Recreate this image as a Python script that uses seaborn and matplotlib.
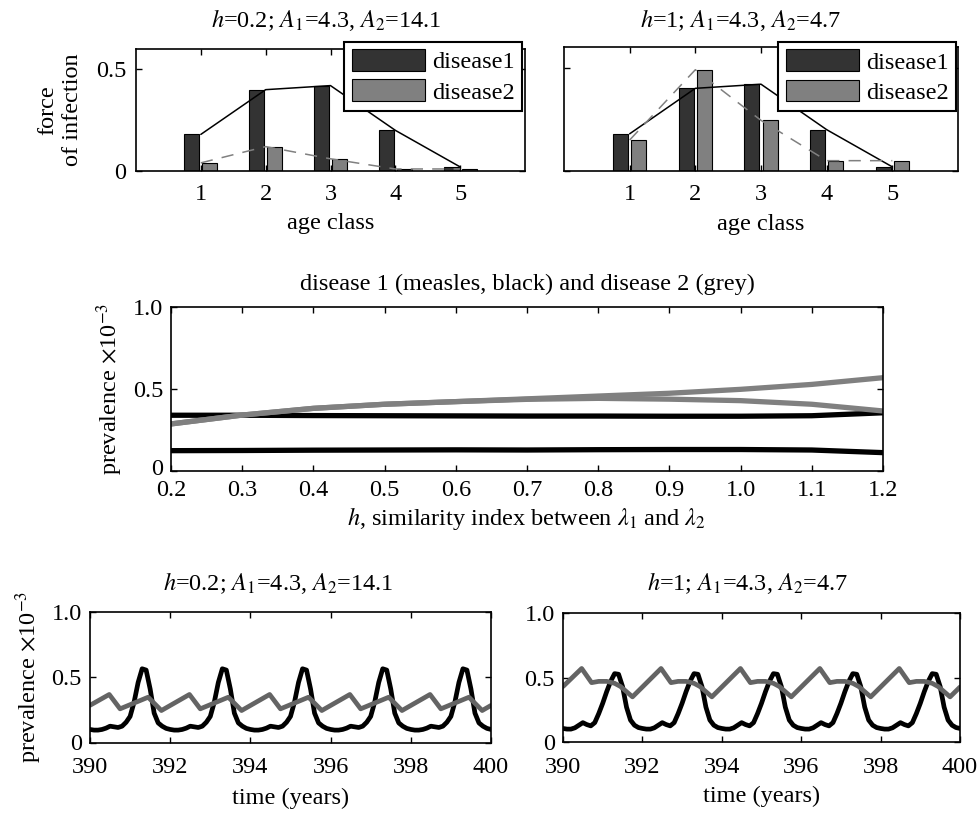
import numpy as np
import pandas as pd
import matplotlib
matplotlib.use("Agg")
import matplotlib.pyplot as plt
import matplotlib.transforms as mtransforms
import seaborn as sns
from matplotlib.patches import Patch

# ---------------- data ----------------
age_classes = [1, 2, 3, 4, 5]
foi_disease1 = [0.18, 0.40, 0.42, 0.20, 0.02]
foi_disease2_h02 = [0.04, 0.12, 0.06, 0.01, 0.01]
foi_disease2_h1 = [0.15, 0.49, 0.245, 0.05, 0.05]

h_values = [0.2, 0.3, 0.4, 0.5, 0.6, 0.7, 0.8, 0.9, 1.0, 1.1, 1.2]
measles_upper = [0.340, 0.340, 0.338, 0.337, 0.336, 0.335, 0.335, 0.334, 0.334, 0.337, 0.355]
measles_lower = [0.124, 0.125, 0.127, 0.128, 0.129, 0.128, 0.130, 0.131, 0.131, 0.128, 0.112]
disease2_upper = [0.287, 0.341, 0.382, 0.407, 0.423, 0.440, 0.457, 0.474, 0.498, 0.528, 0.569]
disease2_lower = [0.287, 0.341, 0.382, 0.407, 0.423, 0.437, 0.443, 0.438, 0.429, 0.407, 0.366]

# time grid for the measles series (every 0.1 year)
years = np.round(np.arange(390.0, 400.05, 0.1), 1)

measles_h02 = [
    0.100, 0.095, 0.095, 0.100, 0.110, 0.125, 0.120, 0.115, 0.125, 0.155,
    0.200, 0.310, 0.460, 0.565, 0.555, 0.410, 0.225, 0.150, 0.125, 0.108,
    0.100, 0.095, 0.095, 0.100, 0.110, 0.125, 0.120, 0.115, 0.125, 0.155,
    0.200, 0.310, 0.460, 0.565, 0.555, 0.410, 0.225, 0.150, 0.125, 0.108,
    0.100, 0.095, 0.095, 0.100, 0.110, 0.125, 0.120, 0.115, 0.125, 0.155,
    0.200, 0.310, 0.460, 0.565, 0.555, 0.410, 0.225, 0.150, 0.125, 0.108,
    0.100, 0.095, 0.095, 0.100, 0.110, 0.125, 0.120, 0.115, 0.125, 0.155,
    0.200, 0.310, 0.460, 0.565, 0.555, 0.410, 0.225, 0.150, 0.125, 0.108,
    0.100, 0.095, 0.095, 0.100, 0.110, 0.125, 0.120, 0.115, 0.125, 0.155,
    0.200, 0.310, 0.460, 0.565, 0.555, 0.410, 0.225, 0.150, 0.125, 0.108,
    0.100,
]
measles_h1 = [
    0.105, 0.100, 0.100, 0.110, 0.130, 0.150, 0.135, 0.125, 0.150, 0.220,
    0.300, 0.390, 0.470, 0.530, 0.525, 0.430, 0.270, 0.170, 0.130, 0.112,
    0.105, 0.100, 0.100, 0.110, 0.130, 0.150, 0.135, 0.125, 0.150, 0.220,
    0.300, 0.390, 0.470, 0.530, 0.525, 0.430, 0.270, 0.170, 0.130, 0.112,
    0.105, 0.100, 0.100, 0.110, 0.130, 0.150, 0.135, 0.125, 0.150, 0.220,
    0.300, 0.390, 0.470, 0.530, 0.525, 0.430, 0.270, 0.170, 0.130, 0.112,
    0.105, 0.100, 0.100, 0.110, 0.130, 0.150, 0.135, 0.125, 0.150, 0.220,
    0.300, 0.390, 0.470, 0.530, 0.525, 0.430, 0.270, 0.170, 0.130, 0.112,
    0.105, 0.100, 0.100, 0.110, 0.130, 0.150, 0.135, 0.125, 0.150, 0.220,
    0.300, 0.390, 0.470, 0.530, 0.525, 0.430, 0.270, 0.170, 0.130, 0.112,
    0.105,
]

# disease 2 is piecewise linear (term-time forcing): breakpoints
d2_years_h02 = [390.0, 390.48, 390.75, 391.45, 391.78, 392.48, 392.75, 393.45, 393.78,
                394.48, 394.75, 395.45, 395.78, 396.48, 396.75, 397.45, 397.78,
                398.48, 398.75, 399.45, 399.78, 400.0]
d2_prev_h02 = [0.285, 0.368, 0.258, 0.347, 0.245, 0.368, 0.258, 0.347, 0.245,
               0.368, 0.258, 0.347, 0.245, 0.368, 0.258, 0.347, 0.245,
               0.368, 0.258, 0.347, 0.245, 0.284]

d2_years_h1 = [390.0, 390.47, 390.72, 390.9, 391.1, 391.3, 391.45, 391.6, 391.75,
               392.47, 392.72, 392.9, 393.1, 393.3, 393.45, 393.6, 393.75,
               394.47, 394.72, 394.9, 395.1, 395.3, 395.45, 395.6, 395.75,
               396.47, 396.72, 396.9, 397.1, 397.3, 397.45, 397.6, 397.75,
               398.47, 398.72, 398.9, 399.1, 399.3, 399.45, 399.6, 399.75, 400.0]
d2_prev_h1 = [0.43, 0.57, 0.46, 0.47, 0.47, 0.455, 0.43, 0.39, 0.35,
              0.57, 0.46, 0.47, 0.47, 0.455, 0.43, 0.39, 0.35,
              0.57, 0.46, 0.47, 0.47, 0.455, 0.43, 0.39, 0.35,
              0.57, 0.46, 0.47, 0.47, 0.455, 0.43, 0.39, 0.35,
              0.57, 0.46, 0.47, 0.47, 0.455, 0.43, 0.39, 0.35, 0.426]

disease_labels = ["disease1", "disease2"]
panel_titles = [r"$h$=0.2; $A_1$=4.3, $A_2$=14.1", r"$h$=1; $A_1$=4.3, $A_2$=4.7"]

# ---------------- style ----------------
sns.set_theme(style="ticks")
FS = 17.5
plt.rcParams.update({
    "font.family": ["Liberation Serif", "DejaVu Serif"],
    "mathtext.fontset": "stix",
    "font.size": FS,
    "axes.linewidth": 1.2,
    "axes.edgecolor": "black",
    "axes.labelcolor": "black",
    "text.color": "black",
    "xtick.color": "black",
    "ytick.color": "black",
    "xtick.direction": "in",
    "ytick.direction": "in",
    "xtick.top": True,
    "ytick.right": True,
    "xtick.major.size": 4.5,
    "ytick.major.size": 4.5,
    "xtick.major.width": 1.0,
    "ytick.major.width": 1.0,
    "xtick.labelsize": FS,
    "ytick.labelsize": FS,
    "axes.labelsize": FS,
})

DARK = "#333333"
GREY = "#808080"
GREY_TS = "#646464"

W, H = 980, 814
fig = plt.figure(figsize=(W / 100, H / 100), dpi=100)


def px_axes(left, top, right, bottom):
    return fig.add_axes([left / W, 1 - bottom / H, (right - left) / W, (bottom - top) / H])


# ---------------- top: force of infection bars ----------------
top_axes = [px_axes(136, 49, 525, 171), px_axes(564, 47, 958, 171)]
top_d2 = [foi_disease2_h02, foi_disease2_h1]
legend_anchor = [(0.992, 1.058), (0.995, 1.04)]
for i, ax in enumerate(top_axes):
    df = pd.DataFrame({
        "age": age_classes * 2,
        "foi": foi_disease1 + top_d2[i],
        "disease": [disease_labels[0]] * 5 + [disease_labels[1]] * 5,
    })
    sns.barplot(data=df, x="age", y="foi", hue="disease", native_scale=True,
                width=0.56, gap=0.18, palette=[DARK, GREY], saturation=1,
                edgecolor="black", linewidth=0.8, errorbar=None, legend=False, ax=ax)
    sns.lineplot(x=age_classes, y=foi_disease1, color="black", lw=1.1,
                 estimator=None, ax=ax)
    sns.lineplot(x=age_classes, y=top_d2[i], color=GREY, lw=1.1,
                 estimator=None, ax=ax)
    ax.lines[-1].set_dashes([8, 6])
    ax.set_xlim(0, 6)
    ax.set_ylim(0, 0.6)
    ax.set_xticks(age_classes)
    ax.set_xticklabels([str(a) for a in age_classes])
    ax.set_yticks([0, 0.5])
    ax.set_yticklabels(["0", "0.5"])
    ax.tick_params(axis="x", pad=9)
    ax.tick_params(axis="y", pad=7)
    ax.set_xlabel("age class")
    ax.xaxis.label.set_va("center")
    ax.xaxis.set_label_coords(0.5, -0.43)
    handles = [Patch(facecolor=DARK, edgecolor="black", lw=0.8, label=disease_labels[0]),
               Patch(facecolor=GREY, edgecolor="black", lw=0.8, label=disease_labels[1])]
    leg = ax.legend(handles=handles, loc="upper right", bbox_to_anchor=legend_anchor[i],
                    borderaxespad=0, fancybox=False, framealpha=1, edgecolor="black",
                    handlelength=3.0, handleheight=1.0, handletextpad=0.3,
                    labelspacing=0.25, borderpad=0.3, fontsize=FS)
    leg.get_frame().set_linewidth(1.5)
    for sp in ax.spines.values():
        sp.set_visible(True)

top_axes[0].set_ylabel("force\nof infection", linespacing=1.25, ma="center")
top_axes[0].yaxis.label.set_va("center")
top_axes[0].yaxis.set_label_coords(-0.195, 0.5)
top_axes[1].tick_params(axis="y", labelleft=False)
top_axes[1].set_ylabel("")

fig.text(326 / W, 1 - 20 / H, panel_titles[0], ha="center", va="center")
fig.text(741 / W, 1 - 20 / H, panel_titles[1], ha="center", va="center")

# ---------------- middle: prevalence vs similarity index ----------------
axm = px_axes(171, 307, 883, 471)
for series in (measles_upper, measles_lower):
    sns.lineplot(x=h_values, y=series, color="black", lw=3.8, estimator=None, ax=axm)
for series in (disease2_lower, disease2_upper):
    sns.lineplot(x=h_values, y=series, color=GREY, lw=3.8, estimator=None, ax=axm)
axm.set_xlim(0.2, 1.2)
axm.set_ylim(0, 1.0)
axm.set_xticks(h_values)
axm.set_xticklabels([f"{v:.1f}" for v in h_values])
axm.set_yticks([0, 0.5, 1.0])
axm.set_yticklabels(["0", "0.5", "1.0"])
axm.tick_params(axis="x", pad=6.5)
axm.tick_params(axis="y", pad=5.5)
# lift the "0" label a little so it clears the first x tick label
zero_lbl = axm.get_yticklabels()[0]
zero_lbl.set_transform(zero_lbl.get_transform()
                       + mtransforms.ScaledTranslation(0, 4 / 100, fig.dpi_scale_trans))
axm.set_xlabel(r"$h$, similarity index between $\lambda_1$ and $\lambda_2$")
axm.xaxis.label.set_va("center")
axm.xaxis.set_label_coords(0.5, -0.29)
axm.set_ylabel(r"prevalence $\times$10$^{-3}$")
axm.yaxis.label.set_va("center")
axm.yaxis.set_label_coords(-0.0857, 0.5)
fig.text(527 / W, 1 - 284 / H, "disease 1 (measles, black) and disease 2 (grey)",
         ha="center", va="center")

# ---------------- bottom: time series ----------------
bot_axes = [px_axes(90, 612, 491, 742.5), px_axes(563, 613, 960, 742)]
measles_ts = [measles_h02, measles_h1]
d2_t = [d2_years_h02, d2_years_h1]
d2_v = [d2_prev_h02, d2_prev_h1]
for i, ax in enumerate(bot_axes):
    sns.lineplot(x=years, y=measles_ts[i], color="black", lw=3.4, estimator=None, ax=ax)
    sns.lineplot(x=d2_t[i], y=d2_v[i], color=GREY_TS, lw=3.4, estimator=None, ax=ax)
    ax.set_xlim(390, 400)
    ax.set_ylim(0, 1.0)
    ax.set_xticks(range(390, 401, 2))
    ax.set_xticklabels([str(v) for v in range(390, 401, 2)])
    ax.set_yticks([0, 0.5, 1.0])
    ax.set_yticklabels(["0", "0.5", "1.0"])
    ax.tick_params(axis="x", pad=10.5)
    ax.tick_params(axis="y", pad=6)
    ax.set_xlabel("time (years)")
    ax.xaxis.label.set_va("center")
    ax.xaxis.set_label_coords(0.5, -0.425)
    ax.set_ylabel("")

bot_axes[0].set_ylabel(r"prevalence $\times$10$^{-3}$")
bot_axes[0].yaxis.label.set_va("center")
bot_axes[0].yaxis.set_label_coords(-0.153, 0.5)
fig.text(278 / W, 1 - 583 / H, panel_titles[0], ha="center", va="center")
fig.text(748 / W, 1 - 583 / H, panel_titles[1], ha="center", va="center")

fig.savefig("out.png", dpi=100, facecolor="white")
